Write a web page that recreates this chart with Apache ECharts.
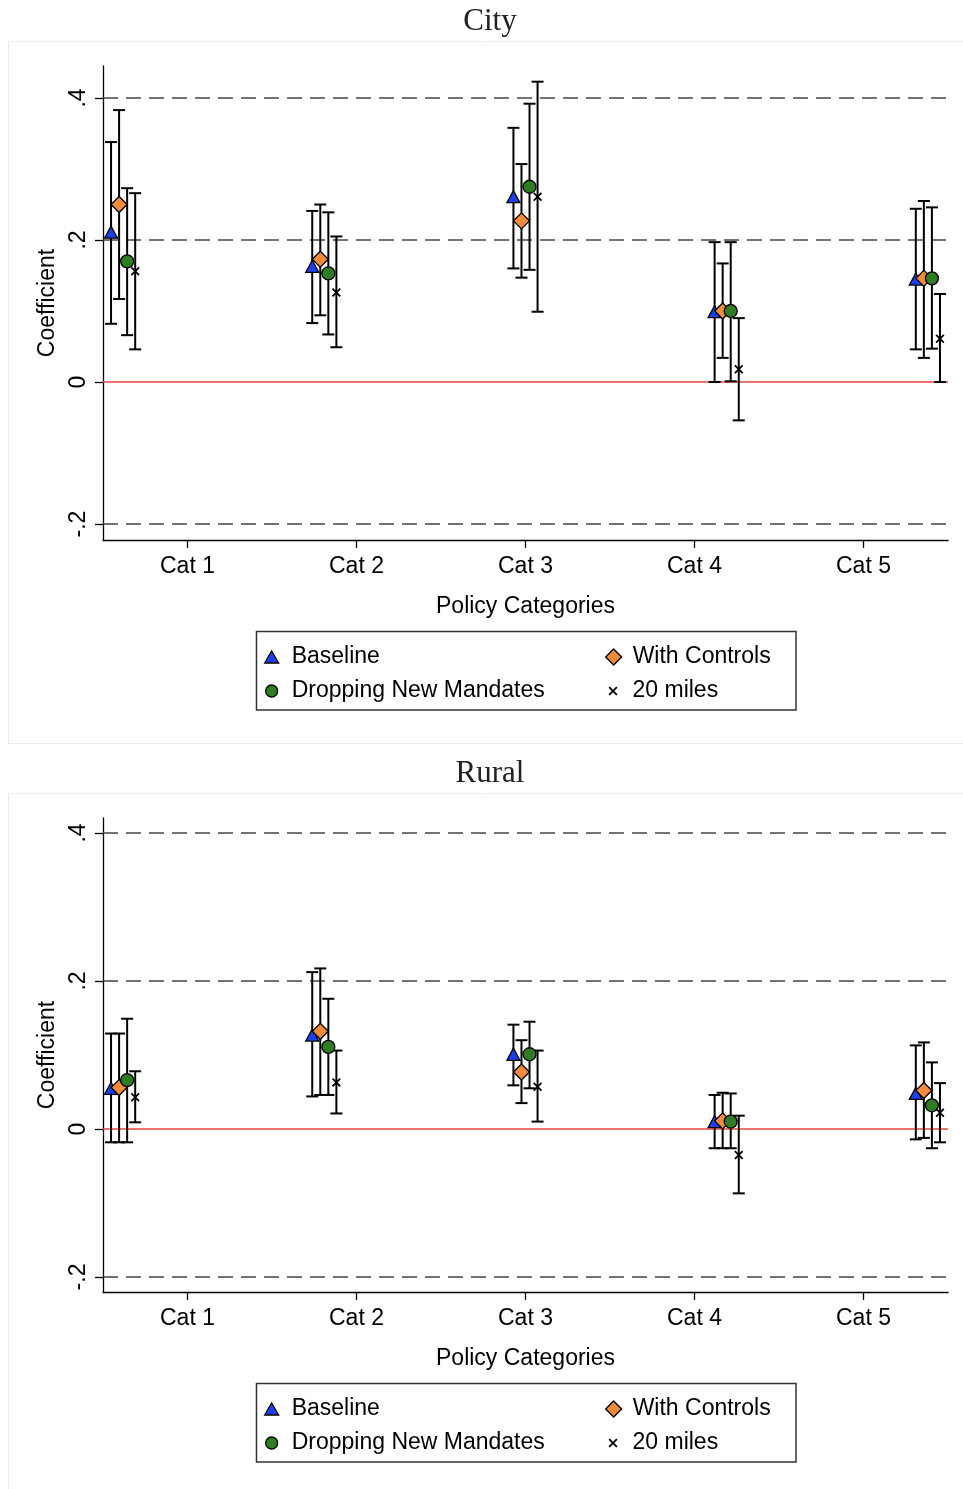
<!DOCTYPE html>
<html>
<head>
<meta charset="utf-8">
<title>Policy category coefficients: City and Rural</title>
<script src="https://cdn.jsdelivr.net/npm/echarts@6/dist/echarts.min.js"></script>
<style>
  html, body { margin: 0; padding: 0; background: #ffffff; }
  #chart { width: 963px; height: 1489px; }
</style>
</head>
<body>
<div id="chart"></div>
<script>
// Policy categories on the x axis
const categories = ['Cat 1', 'Cat 2', 'Cat 3', 'Cat 4', 'Cat 5'];
const seriesNames = ['Baseline', 'With Controls', 'Dropping New Mandates', '20 miles'];
const yTicks = [-0.2, 0, 0.2, 0.4];

// Each entry: [estimate, lower CI, upper CI] for Cat 1..Cat 5
const cityBaseline = [[0.211, 0.082, 0.338], [0.163, 0.083, 0.241], [0.261, 0.160, 0.358], [0.099, 0.000, 0.197], [0.145, 0.046, 0.244]];
const cityControls = [[0.250, 0.117, 0.383], [0.173, 0.094, 0.250], [0.227, 0.147, 0.307], [0.100, 0.034, 0.167], [0.146, 0.034, 0.255]];
const cityDropping = [[0.170, 0.066, 0.273], [0.153, 0.067, 0.239], [0.275, 0.158, 0.392], [0.100, 0.001, 0.197], [0.146, 0.047, 0.246]];
const cityMiles    = [[0.156, 0.046, 0.266], [0.126, 0.049, 0.205], [0.261, 0.099, 0.423], [0.018, -0.054, 0.090], [0.061, 0.000, 0.124]];

const ruralBaseline = [[0.055, -0.018, 0.129], [0.127, 0.044, 0.212], [0.101, 0.059, 0.141], [0.010, -0.026, 0.046], [0.048, -0.014, 0.113]];
const ruralControls = [[0.056, -0.018, 0.129], [0.132, 0.046, 0.217], [0.077, 0.035, 0.120], [0.011, -0.026, 0.049], [0.052, -0.012, 0.117]];
const ruralDropping = [[0.066, -0.018, 0.149], [0.111, 0.046, 0.176], [0.101, 0.055, 0.145], [0.010, -0.026, 0.048], [0.032, -0.026, 0.090]];
const ruralMiles    = [[0.043, 0.009, 0.078], [0.063, 0.021, 0.106], [0.057, 0.010, 0.106], [-0.035, -0.087, 0.018], [0.022, -0.018, 0.062]];

// Horizontal offset of each specification within a category group
const offsets = [-0.06, -0.02, 0.02, 0.06];

const SANS = 'Liberation Sans';
const SERIF = 'Liberation Serif';
const X_SHAPE = 'path://M0,1.4L1.4,0L5,3.6L8.6,0L10,1.4L6.4,5L10,8.6L8.6,10L5,6.4L1.4,10L0,8.6L3.6,5Z';

const styles = [
  { symbol: 'triangle', size: [13, 12], color: '#1c3ff0', border: 1.3 },
  { symbol: 'diamond',  size: [16, 16], color: '#f28c3a', border: 1.3 },
  { symbol: 'circle',   size: [13, 13], color: '#2f7d22', border: 1.3 },
  { symbol: X_SHAPE,    size: [9, 9],   color: '#000000', border: 0 }
];

const fmtTick = v => {
  if (Math.abs(v) < 1e-9) return '0';
  return (v < 0 ? '-' : '') + String(Math.abs(v)).replace(/^0/, '');
};

// Confidence-interval whiskers with end caps
function errorBars(params, api) {
  const x = api.value(0);
  const lo = api.coord([x, api.value(1)]);
  const hi = api.coord([x, api.value(2)]);
  const cap = 6;
  const st = { stroke: '#000', lineWidth: 2 };
  return {
    type: 'group',
    children: [
      { type: 'line', shape: { x1: lo[0], y1: lo[1], x2: hi[0], y2: hi[1] }, style: st },
      { type: 'line', shape: { x1: lo[0] - cap, y1: lo[1], x2: lo[0] + cap, y2: lo[1] }, style: st },
      { type: 'line', shape: { x1: hi[0] - cap, y1: hi[1], x2: hi[0] + cap, y2: hi[1] }, style: st }
    ]
  };
}

// Horizontal reference lines across the plot: dashed gray, zero in red
function refLines(params, api) {
  const v = api.value(1);
  const yc = api.coord([api.value(0), v])[1];
  const cs = params.coordSys;
  const isZero = Math.abs(v) < 1e-9;
  return {
    type: 'line',
    shape: { x1: cs.x, y1: yc, x2: cs.x + cs.width, y2: yc },
    style: isZero
      ? { stroke: '#e8453a', lineWidth: 1.6 }
      : { stroke: '#444', lineWidth: 1.3, lineDash: [15, 8] }
  };
}

const panels = [
  { title: 'City',  titleTop: 6,   top: 66,  bottom: 540,  yMin: -0.2225, yMax: 0.4451, box: [8, 41, 980, 702],
    legendRows: [657, 691], legendBox: [256.5, 631.5, 539.5, 78.5],
    sets: [cityBaseline, cityControls, cityDropping, cityMiles] },
  { title: 'Rural', titleTop: 758, top: 818, bottom: 1292, yMin: -0.2203, yMax: 0.4203, box: [8, 793, 980, 720],
    legendRows: [1409, 1443], legendBox: [256.5, 1383.5, 539.5, 78.5],
    sets: [ruralBaseline, ruralControls, ruralDropping, ruralMiles] }
];

const option = {
  backgroundColor: '#ffffff',
  animation: false,
  title: [],
  grid: [],
  xAxis: [],
  yAxis: [],
  legend: [],
  series: [],
  graphic: []
};

// Legend item placement: icon center x, row, icon size, extra text gap
const legendItems = [
  { name: 'Baseline',              cx: 271, row: 0, w: 14, h: 12, pad: 8 },
  { name: 'With Controls',         cx: 613, row: 0, w: 16, h: 16, pad: 6 },
  { name: 'Dropping New Mandates', cx: 271, row: 1, w: 12, h: 12, pad: 9 },
  { name: '20 miles',              cx: 613, row: 1, w: 9,  h: 9,  pad: 10 }
];

panels.forEach((p, pi) => {
  option.title.push({
    text: p.title, left: 490, top: p.titleTop, textAlign: 'center', padding: 0,
    textStyle: { fontFamily: SERIF, fontSize: 31, fontWeight: 'normal', color: '#222' }
  });

  option.graphic.push({
    type: 'rect', silent: true, z: -10,
    shape: { x: p.box[0] + 0.5, y: p.box[1] + 0.5, width: p.box[2], height: p.box[3] },
    style: { fill: 'none', stroke: '#ececec', lineWidth: 1 }
  });
  option.graphic.push({
    type: 'rect', silent: true,
    shape: { x: p.legendBox[0], y: p.legendBox[1], width: p.legendBox[2], height: p.legendBox[3] },
    style: { fill: 'none', stroke: '#333', lineWidth: 1.5 }
  });

  option.grid.push({ left: 103, width: 845, top: p.top, height: p.bottom - p.top, containLabel: false });

  const xVal = option.xAxis.length;
  option.xAxis.push({
    type: 'value', gridIndex: pi, min: 0.9, max: 5.1, show: false,
    axisLine: { onZero: false }
  });
  option.xAxis.push({
    type: 'category', gridIndex: pi, position: 'bottom', data: categories, boundaryGap: true,
    axisLine: { show: true, onZero: false, lineStyle: { color: '#000', width: 1.3 } },
    axisTick: { show: true, alignWithLabel: true, length: 8, lineStyle: { color: '#000', width: 1.3 } },
    axisLabel: { fontFamily: SANS, fontSize: 23, color: '#000', margin: 15 },
    splitLine: { show: false },
    name: 'Policy Categories', nameLocation: 'middle', nameGap: 55,
    nameTextStyle: { fontFamily: SANS, fontSize: 23, color: '#000' }
  });

  option.yAxis.push({
    type: 'value', gridIndex: pi, min: p.yMin, max: p.yMax,
    axisLine: { show: true, onZero: false, lineStyle: { color: '#000', width: 1.3 } },
    axisTick: { show: true, length: 8, customValues: yTicks, lineStyle: { color: '#000', width: 1.3 } },
    axisLabel: { customValues: yTicks, rotate: 90, formatter: fmtTick, fontFamily: SANS, fontSize: 23, color: '#000', margin: 13 },
    splitLine: { show: false },
    name: 'Coefficient', nameLocation: 'middle', nameGap: 37,
    nameTextStyle: { fontFamily: SANS, fontSize: 23, color: '#000' }
  });

  option.series.push({
    type: 'custom', xAxisIndex: xVal, yAxisIndex: pi, z: 1, silent: true,
    renderItem: refLines,
    encode: { x: 0, y: 1 },
    data: yTicks.map(v => [3, v])
  });

  p.sets.forEach((set, si) => {
    option.series.push({
      type: 'custom', name: seriesNames[si], xAxisIndex: xVal, yAxisIndex: pi, z: 2,
      renderItem: errorBars,
      encode: { x: 0, y: [1, 2] },
      data: set.map((d, ci) => [ci + 1 + offsets[si], d[1], d[2]]),
      silent: true
    });
  });

  p.sets.forEach((set, si) => {
    const s = styles[si];
    option.series.push({
      type: 'scatter', name: seriesNames[si], xAxisIndex: xVal, yAxisIndex: pi, z: 3,
      symbol: s.symbol, symbolSize: s.size, symbolKeepAspect: true,
      itemStyle: { color: s.color, borderColor: '#000', borderWidth: s.border, opacity: 1 },
      data: set.map((d, ci) => [ci + 1 + offsets[si], d[0]])
    });
  });

  legendItems.forEach((it, li) => {
    const s = styles[li];
    option.legend.push({
      show: true, orient: 'horizontal', padding: 0, selectedMode: false,
      left: it.cx - it.w / 2, top: p.legendRows[it.row] - 11.5,
      itemWidth: it.w, itemHeight: it.h,
      data: [{ name: it.name, icon: s.symbol,
               itemStyle: { color: s.color, borderColor: '#000', borderWidth: s.border } }],
      textStyle: { fontFamily: SANS, fontSize: 23, color: '#000', padding: [0, 0, 0, it.pad] }
    });
  });
});

const chart = echarts.init(document.getElementById('chart'), null, { renderer: 'canvas' });
chart.setOption(option);
</script>
</body>
</html>
